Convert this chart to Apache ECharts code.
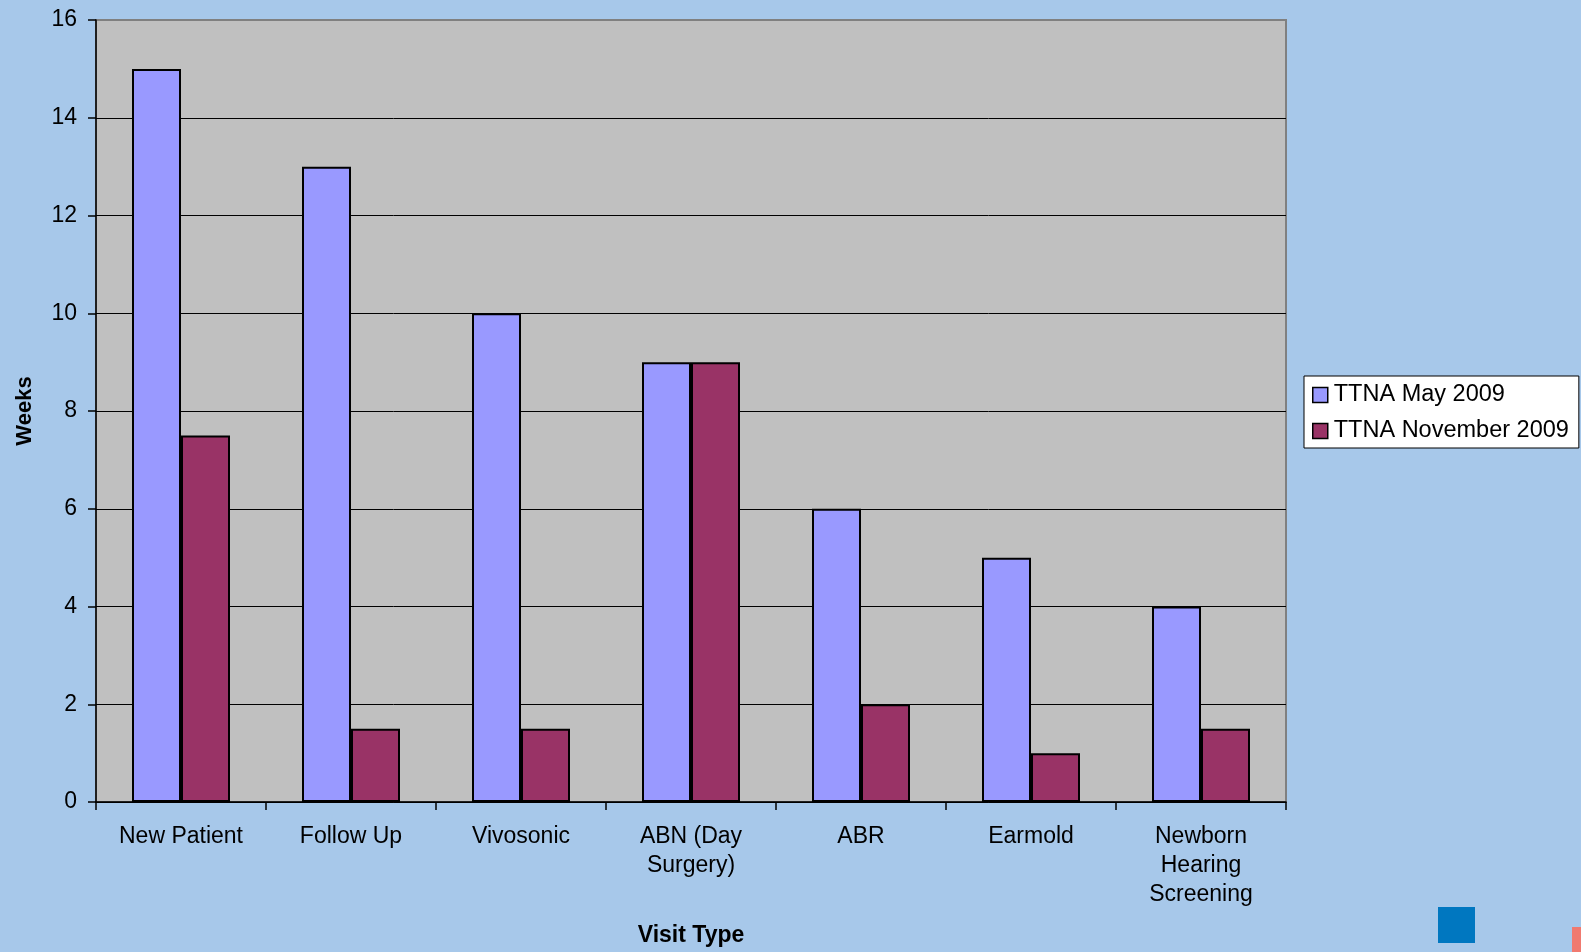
<!DOCTYPE html>
<html>
<head>
<meta charset="utf-8">
<script src="https://cdn.jsdelivr.net/npm/echarts@6/dist/echarts.min.js"></script>
<style>
html,body{margin:0;padding:0;background:#A7C8EA;}
#chart{width:1581px;height:952px;}
</style>
</head>
<body>
<div id="chart"></div>
<script>
const categories = ['New Patient', 'Follow Up', 'Vivosonic', 'ABN (Day\nSurgery)', 'ABR', 'Earmold', 'Newborn\nHearing\nScreening'];
const seriesNames = ['TTNA May 2009', 'TTNA November 2009'];
const may2009 = [15, 13, 10, 9, 6, 5, 4];
const nov2009 = [7.5, 1.5, 1.5, 9, 2, 1, 1.5];
const yMin = 0, yMax = 16, yStep = 2;

const chart = echarts.init(document.getElementById('chart'));
const font = 'Arial, "Liberation Sans", sans-serif';
chart.setOption({
  backgroundColor: '#A7C8EA',
  animation: false,
  textStyle: { fontFamily: font, color: '#000' },
  grid: {
    left: 96, right: 295, top: 20, bottom: 144,
    show: true, backgroundColor: '#C0C0C0', borderColor: '#808080', borderWidth: 2
  },
  legend: {
    orient: 'vertical',
    left: 1304, top: 376,
    padding: [7, 10, 5, 8],
    backgroundColor: '#fff', borderColor: '#000', borderWidth: 1,
    itemWidth: 15, itemHeight: 15, itemGap: 12,
    icon: 'rect',
    itemStyle: { borderColor: '#000', borderWidth: 1.5 },
    textStyle: { fontSize: 23.5, fontFamily: font, color: '#000', padding: [0, 0, 0, 1] },
    data: seriesNames
  },
  xAxis: {
    type: 'category',
    data: categories,
    name: 'Visit Type',
    nameLocation: 'middle',
    nameGap: 122,
    nameTextStyle: { fontSize: 23, fontWeight: 'bold', fontFamily: font, color: '#000' },
    axisLine: { lineStyle: { color: '#000', width: 1.5 } },
    axisTick: { show: true, length: 8, lineStyle: { color: '#000', width: 1.5 } },
    axisLabel: { fontSize: 23, margin: 20, lineHeight: 29, color: '#000', fontFamily: font, interval: 0 }
  },
  yAxis: {
    type: 'value',
    min: yMin, max: yMax, interval: yStep,
    name: 'Weeks',
    nameLocation: 'middle',
    nameRotate: 90,
    nameGap: 60,
    nameTextStyle: { fontSize: 22, fontWeight: 'bold', fontFamily: font, color: '#000' },
    axisLine: { show: true, lineStyle: { color: '#000', width: 1.5 } },
    axisTick: { show: true, length: 8, lineStyle: { color: '#000', width: 1.5 } },
    axisLabel: { fontSize: 23, margin: 19, color: '#000', fontFamily: font },
    splitLine: { show: true, lineStyle: { color: ['#000','#000','#000','#000','#000','#000','#000','#000','#808080'], width: 1 } }
  },
  series: [
    {
      name: seriesNames[0], type: 'bar', data: may2009,
      barWidth: 49, barGap: '0%',
      itemStyle: { color: '#9999FF', borderColor: '#000', borderWidth: 2 }
    },
    {
      name: seriesNames[1], type: 'bar', data: nov2009,
      barWidth: 49, barGap: '0%',
      itemStyle: { color: '#993366', borderColor: '#000', borderWidth: 2 }
    }
  ],
  graphic: [
    { type: 'rect', shape: { x: 1438, y: 907, width: 37, height: 36 }, style: { fill: '#0077C0' }, silent: true },
    { type: 'rect', shape: { x: 1572, y: 927, width: 9, height: 25 }, style: { fill: '#F07A70' }, silent: true }
  ]
});
</script>
</body>
</html>
